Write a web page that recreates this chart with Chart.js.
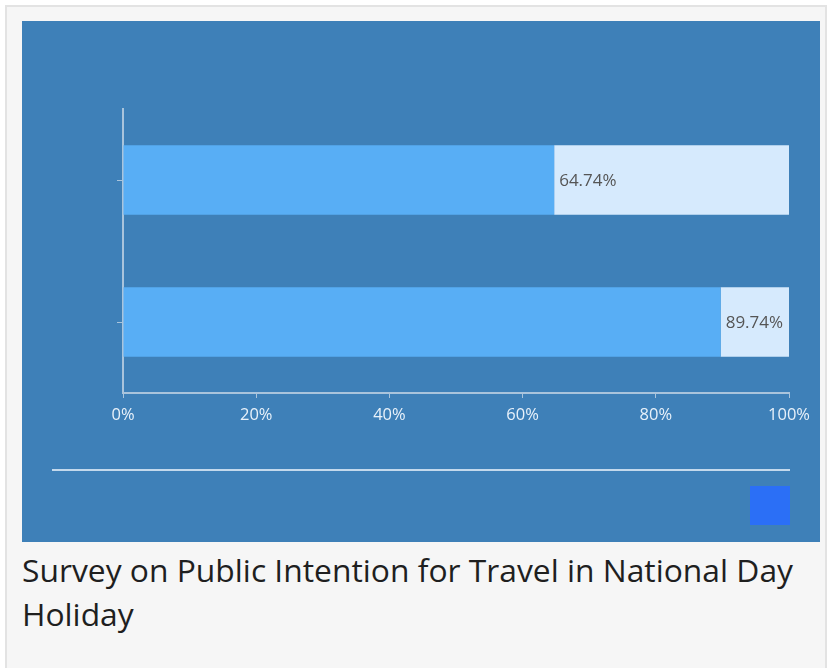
<!DOCTYPE html>
<html>
<head>
<meta charset="utf-8">
<script src="https://cdn.jsdelivr.net/npm/chart.js@4.4.0/dist/chart.umd.min.js"></script>
<style>
  html, body { margin: 0; padding: 0; background: #ffffff; }
  body { width: 836px; height: 668px; overflow: hidden; position: relative; font-family: "Open Sans", "Noto Sans", sans-serif; }
  #frame { position: absolute; left: 5px; top: 5px; width: 822px; height: 670px; border: 2px solid #e3e3e3; background: #f6f6f6; box-sizing: border-box; }
  #panel { position: absolute; left: 22px; top: 21px; width: 798px; height: 521px; background: #3e80b8; }
  #title { position: absolute; left: 22px; top: 548px; width: 798px; font-size: 31.8px; line-height: 44px; color: #1f1f1f; }
</style>
</head>
<body>
<div id="frame"></div>
<div id="panel"><canvas id="c" width="798" height="521"></canvas></div>
<div id="title">Survey on Public Intention for Travel in National Day Holiday</div>
<script>
// ---- data ----
const categories = ["A", "B"];
const values = [64.74, 89.74];
const remainders = [35.26, 10.26];
const xTicks = [0, 20, 40, 60, 80, 100];

// ---- styles ----
const barColor = "#58aef5";
const restColor = "#d6eafd";
const axisColor = "#a9c4dc";
const tickText = "#e8f1fa";
const labelColor = "#555555";
const legendColor = "#2b6ff6";

const labelPlugin = {
  id: "valueLabels",
  afterDatasetsDraw(chart) {
    const ctx = chart.ctx;
    const meta = chart.getDatasetMeta(0);
    ctx.save();
    ctx.font = "17px 'Open Sans', 'Noto Sans', sans-serif";
    ctx.fillStyle = labelColor;
    ctx.textAlign = "left";
    ctx.textBaseline = "middle";
    meta.data.forEach((bar, i) => {
      ctx.fillText(values[i].toFixed(2) + "%", bar.x + 5, bar.y + 1);
    });
    ctx.restore();
  }
};

const footerPlugin = {
  id: "footerDecor",
  afterDraw(chart) {
    const ctx = chart.ctx;
    ctx.save();
    ctx.strokeStyle = "#c3d9ec";
    ctx.lineWidth = 2;
    ctx.beginPath();
    ctx.moveTo(30, 449);
    ctx.lineTo(768, 449);
    ctx.stroke();
    ctx.fillStyle = legendColor;
    ctx.fillRect(728, 465, 40, 39);
    ctx.restore();
  }
};

new Chart(document.getElementById("c"), {
  type: "bar",
  data: {
    labels: categories,
    datasets: [
      { data: values, backgroundColor: barColor, borderWidth: 0, barPercentage: 0.98, categoryPercentage: 0.5 },
      { data: remainders, backgroundColor: restColor, borderWidth: 0, barPercentage: 0.98, categoryPercentage: 0.5 }
    ]
  },
  options: {
    indexAxis: "y",
    responsive: false,
    animation: false,
    layout: { padding: { left: 81, top: 88, right: 31, bottom: 109 } },
    plugins: { legend: { display: false }, tooltip: { enabled: false }, title: { display: false } },
    scales: {
      x: {
        stacked: true,
        min: 0,
        max: 100,
        afterBuildTicks(scale) { scale.ticks = xTicks.map(v => ({ value: v })); },
        afterFit(scale) { scale.height = 40; },
        ticks: {
          color: tickText,
          font: { family: "'Open Sans', 'Noto Sans', sans-serif", size: 16.5 },
          padding: 7,
          maxRotation: 0,
          callback: v => v + "%"
        },
        grid: { drawOnChartArea: false, drawTicks: true, tickLength: 5, color: axisColor, lineWidth: 1 },
        border: { display: true, color: axisColor, width: 2 }
      },
      y: {
        stacked: true,
        afterFit(scale) { scale.width = 20; },
        ticks: { callback: () => "", padding: 0 },
        grid: { offset: false, drawOnChartArea: false, drawTicks: true, tickLength: 6, color: axisColor, lineWidth: 1 },
        border: { display: true, color: axisColor, width: 2 }
      }
    }
  },
  plugins: [labelPlugin, footerPlugin]
});
</script>
</body>
</html>
